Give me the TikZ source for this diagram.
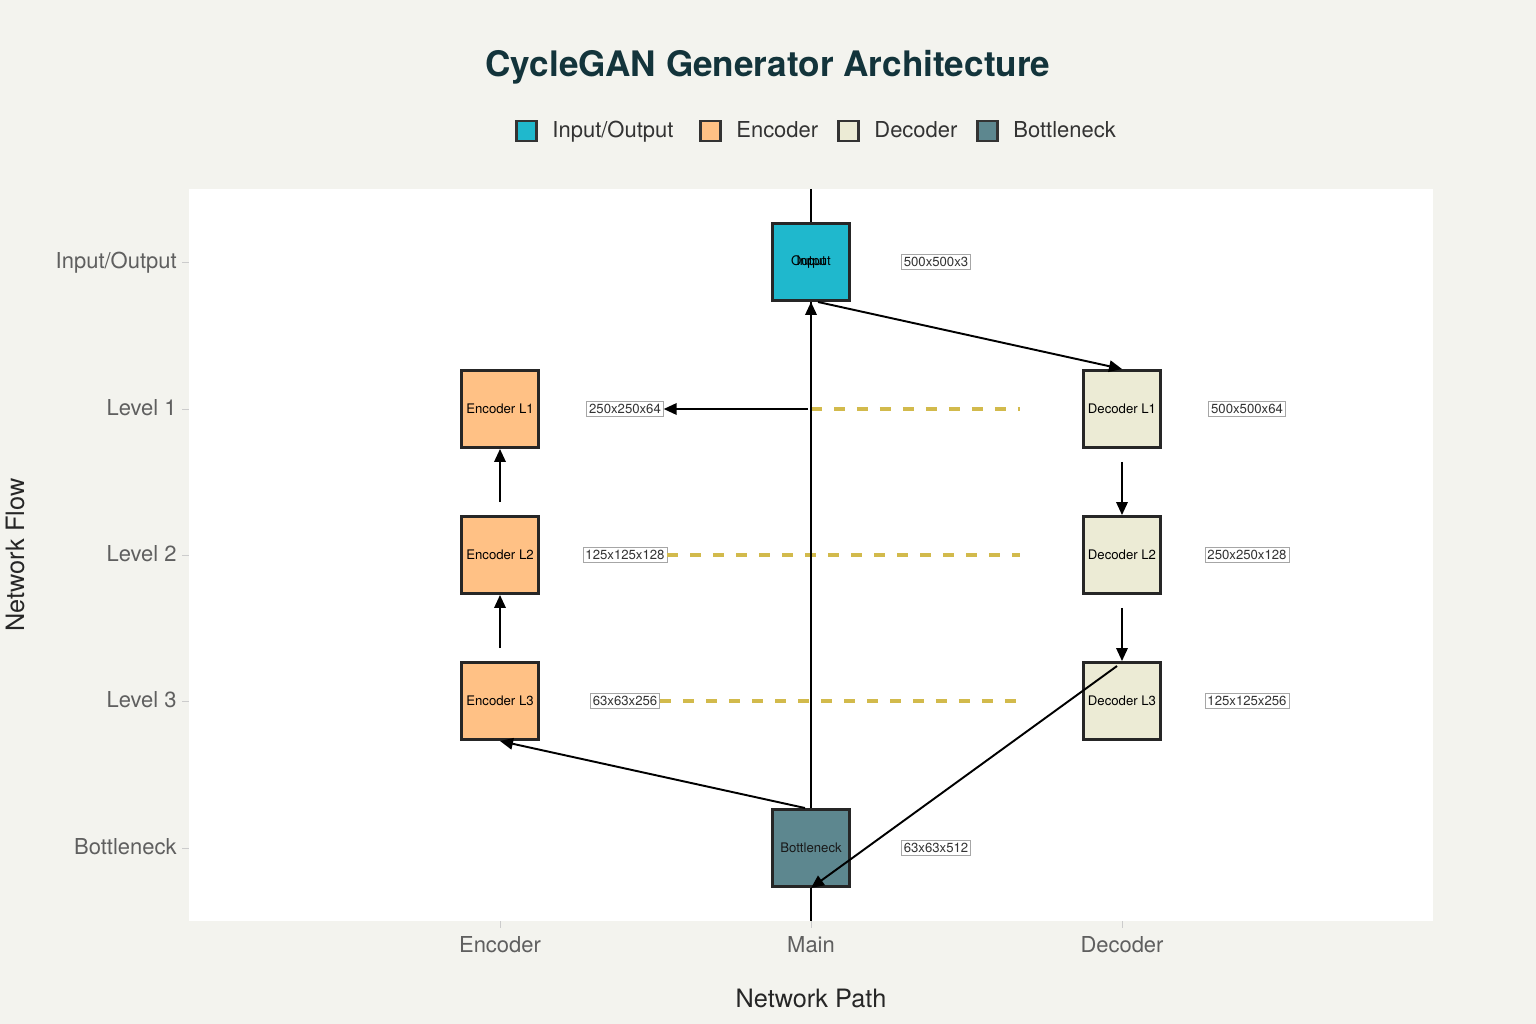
\documentclass[tikz,border=0pt]{standalone}
\usepackage{fontspec}
\setmainfont{TeX Gyre Heros}
\usetikzlibrary{arrows.meta,positioning,calc}
\definecolor{paper}{RGB}{243,243,238}
\definecolor{ink}{RGB}{19,52,59}
\definecolor{iocol}{RGB}{31,184,205}
\definecolor{enccol}{RGB}{255,193,133}
\definecolor{deccol}{RGB}{236,235,213}
\definecolor{neckcol}{RGB}{93,135,143}
\definecolor{skip}{RGB}{210,186,76}
\definecolor{tickgray}{RGB}{95,95,95}
\tikzset{
  flow/.style={-{Triangle[length=2.6mm,width=2.3mm]},line width=1.1pt,draw=black},
  layer/.style={draw=black!85,line width=1.7pt,minimum size=1.54cm,inner sep=0pt,
                font=\fontsize{7.5}{8}\selectfont},
  iobox/.style={layer,fill=iocol},
  encbox/.style={layer,fill=enccol},
  decbox/.style={layer,fill=deccol},
  neckbox/.style={layer,fill=neckcol,text=black!90},
  dimlabel/.style={draw=gray!70,line width=0.4pt,fill=white,inner sep=1.4pt,
                   text=black!80,font=\fontsize{7.5}{8}\selectfont},
  skipline/.style={draw=skip,line width=2.2pt,dash pattern=on 0.22cm off 0.24cm},
  keybox/.style={draw=black!80,line width=1.2pt,minimum size=0.4cm,inner sep=0pt},
  keytext/.style={inner sep=0pt,text height=0.72em,text depth=0pt,text=black!80,
                  font=\fontsize{12.5}{14}\selectfont},
  ticklabel/.style={inner sep=0pt,text height=0.72em,text depth=0pt,text=tickgray,
                    font=\fontsize{12.5}{14}\selectfont}
}
\begin{document}
\begin{tikzpicture}[x=0.02cm,y=-0.02cm]
  \fill[paper] (0,0) rectangle (1536,1024);
  \useasboundingbox (0,0) rectangle (1536,1024);
  \fill[white] (189,189) rectangle (1433,921);

  \node[font=\bfseries\fontsize{20}{24}\selectfont,text=ink] (title) at (768,67) {CycleGAN Generator Architecture};

  \node[keybox,fill=iocol] (keyio) at (526.5,131) {};
  \node[keytext,right=0.29cm of keyio] (keyiotxt) {Input/Output};
  \node[keybox,fill=enccol] (keyenc) at (710.5,131) {};
  \node[keytext,right=0.29cm of keyenc] (keyenctxt) {Encoder};
  \node[keybox,fill=deccol] (keydec) at (848.5,131) {};
  \node[keytext,right=0.29cm of keydec] (keydectxt) {Decoder};
  \node[keybox,fill=neckcol] (keyneck) at (987.5,131) {};
  \node[keytext,right=0.29cm of keyneck] (keynecktxt) {Bottleneck};

  \foreach \y/\name in {262/{Input/Output},409/{Level 1},555/{Level 2},701/{Level 3},848/Bottleneck}{
    \draw[gray!40,line width=0.5pt] (182,\y) -- (189,\y);
    \node[ticklabel,anchor=east] (row-\y) at (177,\y) {\name};
  }
  \foreach \x/\name in {500/Encoder,811/Main,1122/Decoder}{
    \draw[gray!40,line width=0.5pt] (\x,921) -- (\x,928);
    \node[ticklabel] (col-\x) at (\x,946) {\name};
  }
  \node[text=black!85,font=\fontsize{14.4}{16}\selectfont] (xtitle) at (811,998) {Network Path};
  \node[rotate=90,text=black!85,font=\fontsize{14.4}{16}\selectfont] (ytitle) at (15,555) {Network Flow};

  \coordinate (mainL1) at (811,409);
  \coordinate (mainup) at (811,357);
  \coordinate (skipend1) at (1020,409);
  \coordinate (skipend2) at (1020,555);
  \coordinate (skipend3) at (1020,701);

  \node[dimlabel] (dimenc1) at (625,409) {250x250x64};
  \node[dimlabel] (dimenc2) at (625,555) {125x125x128};
  \node[dimlabel] (dimenc3) at (625,701) {63x63x256};
  \draw[skipline] (mainL1) -- (skipend1);
  \draw[skipline] (dimenc2.east) -- (skipend2);
  \draw[skipline] (dimenc3.east) -- (skipend3);

  \draw[black,line width=0.6pt] (811,189) -- (811,921);

  \node[iobox] (io) at (811,262) {};
  \node[inner sep=0pt,font=\fontsize{7.5}{8}\selectfont] (intxt) at (io) {Input};
  \node[inner sep=0pt,font=\fontsize{7.5}{8}\selectfont] (outtxt) at (io) {Output};
  \node[encbox] (enc1) at (500,409) {Encoder L1};
  \node[encbox] (enc2) at (500,555) {Encoder L2};
  \node[encbox] (enc3) at (500,701) {Encoder L3};
  \node[decbox] (dec1) at (1122,409) {Decoder L1};
  \node[decbox] (dec2) at (1122,555) {Decoder L2};
  \node[decbox] (dec3) at (1122,701) {Decoder L3};
  \node[neckbox] (neck) at (811,848) {Bottleneck};

  \node[dimlabel] (dimio) at (936,262) {500x500x3};
  \node[dimlabel] (dimdec1) at (1247,409) {500x500x64};
  \node[dimlabel] (dimdec2) at (1247,555) {250x250x128};
  \node[dimlabel] (dimdec3) at (1247,701) {125x125x256};
  \node[dimlabel] (dimneck) at (936,848) {63x63x512};

  \draw[flow,shorten <=0.26cm] (enc3) -- (enc2);
  \draw[flow,shorten <=0.26cm] (enc2) -- (enc1);
  \draw[flow] (mainup) -- (io);
  \draw[flow] ([xshift=0.14cm]io.south) -- (dec1.north);
  \draw[flow,shorten <=0.26cm] (dec1) -- (dec2);
  \draw[flow,shorten <=0.26cm] (dec2) -- (dec3);
  \draw[flow] ($(dec3.north)+(-5,5)$) -- (neck.south);
  \draw[flow] ([xshift=-0.12cm]neck.north) -- (enc3.south);
  \draw[flow] ([xshift=-0.06cm]mainL1) -- (dimenc1.east);
\end{tikzpicture}
\end{document}
